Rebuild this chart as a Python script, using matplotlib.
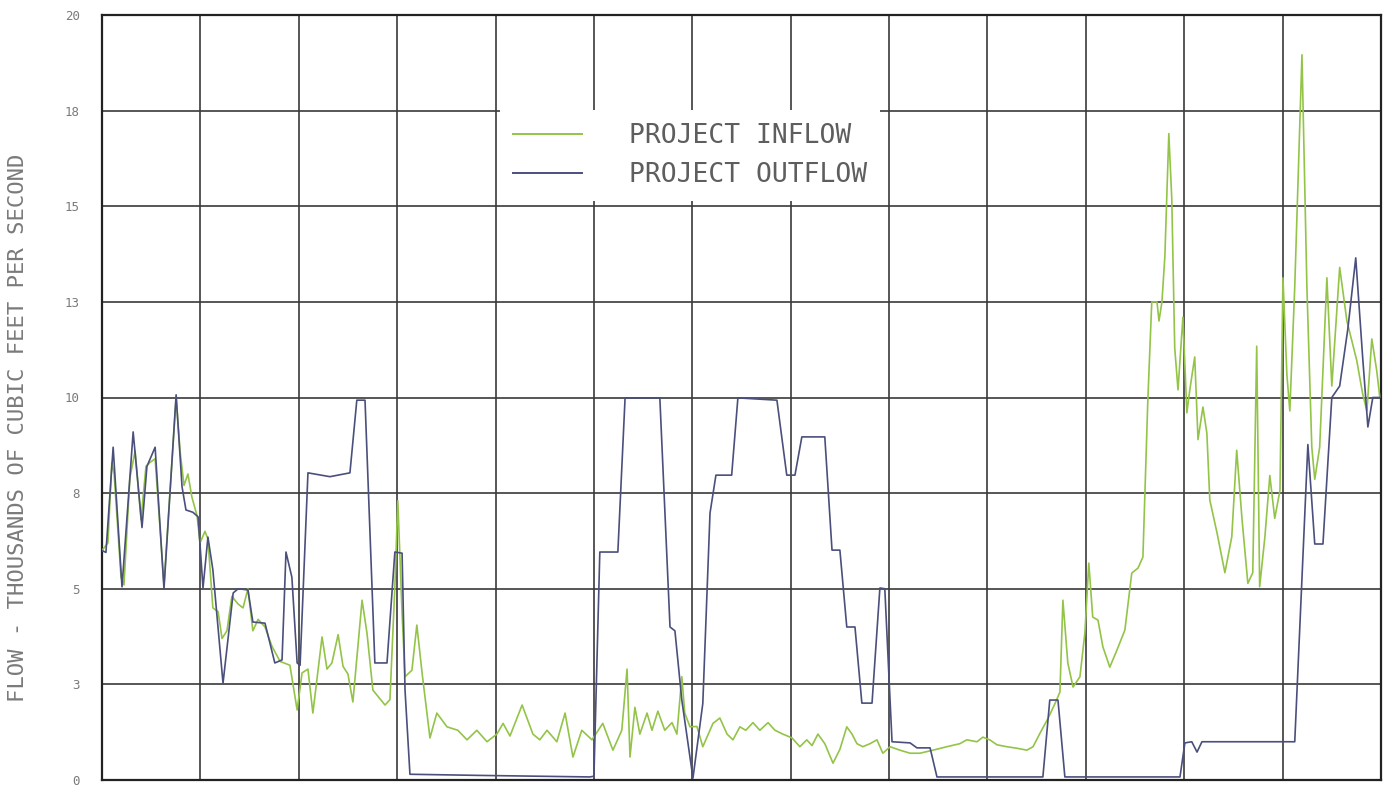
import matplotlib
matplotlib.use("Agg")
import matplotlib.pyplot as plt
from matplotlib.lines import Line2D

# ---- data (day of record, thousands of cfs) ----
outflow_day = [0, 1.2, 3.4, 6.1, 9.5, 12.2, 13.7, 16.2, 18.9, 22.6, 24.4, 25.6, 27.7, 29.3,
               30.8, 32.3, 33.8, 36.9, 40.0, 41.5, 44.5, 46.0, 49.7, 52.7, 54.9, 56.1, 57.9,
               59.5, 60.4, 62.8, 69.5, 75.6, 77.7, 80.2, 83.2, 86.9, 89.3, 91.5, 92.4, 93.9,
               115.2, 148.8, 150.0, 151.8, 157.3, 159.5, 170.1, 173.2, 174.7, 176.8, 180.2,
               183.2, 185.4, 187.2, 192.0, 193.9, 205.8, 208.8, 211.3, 213.4, 220.4, 222.6,
               225.0, 227.1, 229.6, 231.7, 234.8, 237.2, 238.7, 240.9, 246.4, 248.5, 252.5,
               254.6, 286.9, 289.0, 291.5, 293.6, 328.7, 330.2, 332.3, 333.9, 335.4, 363.7,
               367.7, 369.8, 372.3, 375.0, 377.4, 379.9, 382.3, 384.4, 386.0, 387.5, 390.0]
outflow_val = [6.0, 5.95, 8.7, 5.05, 9.1, 6.6, 8.2, 8.7, 5.0, 10.07, 7.67, 7.06, 7.0, 6.88,
               5.02, 6.35, 5.5, 2.53, 4.89, 5.0, 4.97, 4.13, 4.1, 3.06, 3.14, 5.96, 5.3,
               3.06, 3.0, 8.03, 7.93, 8.03, 9.93, 9.93, 3.06, 3.06, 5.96, 5.93, 2.35, 0.15,
               0.12, 0.08, 0.1, 5.96, 5.96, 9.99, 9.99, 4.0, 3.9, 2.09, 0.05,
               2.0, 6.98, 7.97, 7.97, 9.99, 9.93, 7.97, 7.97, 8.97, 8.97, 6.01,
               6.01, 4.0, 4.0, 2.01, 2.01, 5.02, 5.0, 1.0, 0.97, 0.84, 0.84,
               0.08, 0.08, 2.09, 2.09, 0.08, 0.08, 0.97, 1.0, 0.73, 1.0, 1.0,
               8.77, 6.17, 6.17, 10.0, 10.3, 11.8, 13.65, 11.06, 9.23, 10.0, 10.0]

inflow_day = [0, 1.8, 3.0, 3.7, 5.8, 6.7, 8.5, 10.1, 11.9, 13.4, 14.6, 16.2, 18.0, 18.9, 20.7,
              22.6, 23.8, 25.0, 26.2, 27.4, 29.0, 29.9, 31.4, 32.3, 33.8, 35.4, 36.6, 38.1,
              39.6, 41.5, 43.0, 44.5, 46.0, 47.6, 49.7, 51.8, 54.3, 57.3, 59.5, 61.0, 62.8,
              64.3, 67.1, 68.6, 70.1, 72.0, 73.5, 75.0, 76.5, 79.3, 80.8, 82.6, 86.3, 87.8,
              89.3, 90.2, 91.5, 92.4, 94.5, 96.0, 97.6, 100.0, 102.1, 105.2, 108.5, 111.3,
              114.3, 117.4, 120.4, 122.3, 124.4, 128.1, 131.4, 133.5, 135.7, 138.7, 141.2,
              143.6, 146.3, 149.4, 152.7, 155.8, 158.5, 160.1, 161.0, 162.5, 164.0, 166.2,
              167.7, 169.5, 171.6, 173.8, 175.3, 176.8, 177.7, 179.3, 181.4, 183.2, 186.3,
              188.4, 190.6, 192.4, 194.5, 196.3, 198.5, 200.6, 203.1, 205.2, 207.6, 210.4,
              212.8, 214.9, 216.5, 218.3, 220.4, 222.9, 225.0, 227.1, 228.7, 230.2, 232.0,
              234.2, 236.3, 238.1, 240.3, 243.3, 246.4, 249.4, 253.4, 257.6, 261.6, 263.7,
              266.8, 268.6, 270.7, 272.9, 275.9, 279.0, 282.0, 283.9, 286.0, 288.4, 290.6,
              292.1, 293.0, 294.5, 296.1, 298.2, 299.7, 300.9, 302.1, 303.7, 305.2, 307.3,
              309.5, 311.9, 314.0, 315.9, 317.4, 318.0, 318.9, 320.1, 321.7, 322.3, 323.2,
              324.1, 325.3, 326.2, 327.1, 328.1, 329.6, 330.8, 331.7, 333.2, 334.2, 335.7,
              336.9, 337.8, 340.0, 342.4, 344.5, 346.0, 347.6, 349.4, 350.9, 352.1, 353.0,
              354.6, 356.1, 357.6, 359.2, 360.1, 361.3, 362.2, 363.7, 365.9, 367.4, 368.9,
              369.8, 371.3, 373.5, 375.0, 377.4, 379.6, 382.6, 384.4, 385.7, 387.2, 388.7,
              389.6]
inflow_val = [6.0, 6.2, 8.3, 8.0, 5.3, 5.1, 7.9, 8.6, 6.8, 8.2, 8.3, 8.4, 6.2, 5.1, 7.5,
              10.0, 8.6, 7.7, 8.0, 7.4, 6.9, 6.2, 6.5, 6.3, 4.5, 4.4, 3.7, 3.9,
              4.8, 4.6, 4.5, 5.0, 3.9, 4.2, 4.0, 3.5, 3.1, 3.0, 1.83, 2.8, 2.9,
              1.75, 3.74, 2.9, 3.06, 3.8, 2.97, 2.77, 2.04, 4.7, 3.84, 2.35, 1.96, 2.1,
              5.05, 7.3, 4.36, 2.7, 2.87, 4.05, 2.8, 1.1, 1.75, 1.39, 1.3, 1.05,
              1.3, 1.0, 1.2, 1.48, 1.15, 1.96, 1.2, 1.05, 1.3, 1.0, 1.75,
              0.6, 1.3, 1.05, 1.48, 0.78, 1.3, 2.9, 0.6, 1.9, 1.2, 1.75,
              1.3, 1.8, 1.3, 1.5, 1.2, 2.7, 1.75, 1.39, 1.4, 0.87, 1.48,
              1.62, 1.2, 1.05, 1.39, 1.3, 1.5, 1.3, 1.5, 1.3, 1.2, 1.1,
              0.87, 1.05, 0.9, 1.2, 0.95, 0.44, 0.8, 1.39, 1.2, 0.95, 0.87,
              0.95, 1.05, 0.7, 0.87, 0.78, 0.7, 0.7, 0.78, 0.87, 0.95, 1.05,
              1.0, 1.12, 1.05, 0.92, 0.87, 0.83, 0.78, 0.87, 1.22, 1.6, 2.0,
              2.3, 4.7, 3.06, 2.43, 2.7, 3.84, 5.67, 4.26, 4.18, 3.48, 2.95,
              3.4, 3.92, 5.41, 5.54, 5.83, 7.5, 9.93, 12.5, 12.5, 12.0, 12.5,
              13.7, 16.9, 15.2, 11.3, 10.2, 12.1, 9.6, 10.2, 11.06, 8.9, 9.75,
              9.07, 7.32, 6.46, 5.42, 6.36, 8.62, 6.84, 5.14, 5.42, 11.34, 5.05,
              6.36, 7.96, 6.84, 7.58, 13.13, 10.6, 9.65, 12.9, 18.96, 12.9, 8.7,
              7.86, 8.7, 13.13, 10.3, 13.4, 12.0, 10.97, 10.1, 9.65, 11.53, 10.7,
              10.03]

y_ticks = [0, 2.5, 5, 7.5, 10, 12.5, 15, 17.5, 20]
y_tick_labels = ["0", "3", "5", "8", "10", "13", "15", "18", "20"]
x_grid = list(range(0, 391, 30))
series_labels = ["PROJECT INFLOW", "PROJECT OUTFLOW"]

INFLOW_C = "#93c447"
OUTFLOW_C = "#4a4f7c"
GRID_C = "#3a3a3a"
TEXT_C = "#7a7a7a"

fig = plt.figure(figsize=(13.91, 7.89), dpi=100)
ax = fig.add_axes([102 / 1391, 9 / 789, 1279 / 1391, 765 / 789])

ax.set_xlim(0, 390)
ax.set_ylim(0, 20)
ax.set_xticks(x_grid)
ax.set_xticklabels([])
ax.set_yticks(y_ticks)
ax.set_yticklabels(y_tick_labels, family="DejaVu Sans Mono", fontsize=9, color=TEXT_C)
ax.tick_params(axis="both", length=0)
ax.tick_params(axis="y", pad=16)
ax.grid(True, color=GRID_C, linewidth=1.2)
ax.set_axisbelow(True)
for s in ax.spines.values():
    s.set_color("#222222")
    s.set_linewidth(1.6)

ax.plot(inflow_day, inflow_val, color=INFLOW_C, linewidth=1.2, zorder=3)
ax.plot(outflow_day, outflow_val, color=OUTFLOW_C, linewidth=1.2, zorder=4)

ax.set_ylabel("FLOW - THOUSANDS OF CUBIC FEET PER SECOND", family="DejaVu Sans Mono",
              fontsize=16, color=TEXT_C)
ax.yaxis.set_label_coords(-0.058, 0.46)

handles = [Line2D([0], [0], color=INFLOW_C, linewidth=1.4),
           Line2D([0], [0], color=OUTFLOW_C, linewidth=1.4)]
leg = ax.legend(handles, series_labels, loc="upper left", bbox_to_anchor=(0.311, 0.876),
                borderaxespad=0, borderpad=0.5, frameon=True, fancybox=False,
                framealpha=1, facecolor="white", edgecolor="none",
                handlelength=2.6, handletextpad=1.8, labelspacing=0.5,
                prop={"family": "DejaVu Sans Mono", "size": 19})
for t in leg.get_texts():
    t.set_color("#5e5e5e")

fig.savefig("out.png", dpi=100, facecolor="white")
